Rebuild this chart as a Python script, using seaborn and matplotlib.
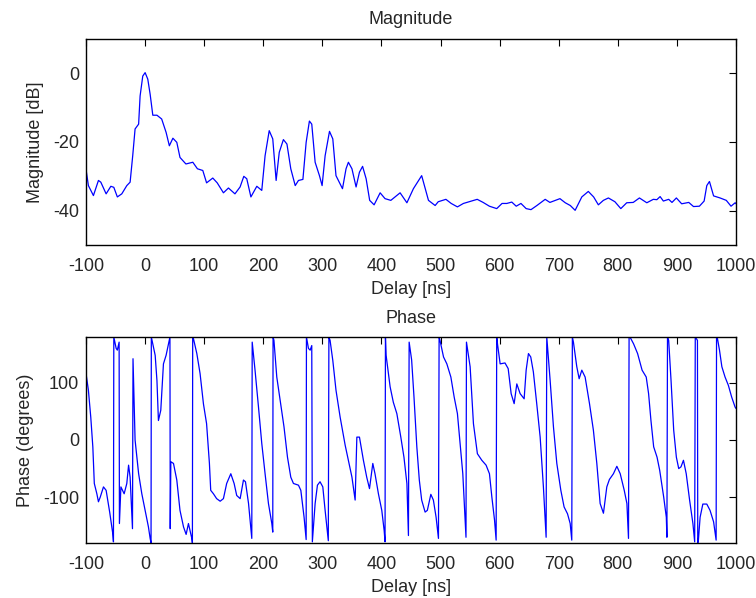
import numpy as np
import pandas as pd
import matplotlib
matplotlib.use('Agg')
import matplotlib.pyplot as plt
import seaborn as sns

# magnitude trace (delay in ns, dB)
mag_ns = [-100, -96, -87.5, -79, -75, -66, -58, -53, -47, -39.5, -31, -25.4, -21, -17, -11,
          -8.5, -4, 0, 4.5, 8.5, 13, 20, 28, 35.5, 41, 47, 53.6, 59, 69, 80.7, 88.5, 97.6,
          104, 114.5, 122, 132.5, 141, 152, 160.7, 167, 172, 179, 189, 197.4, 203, 210,
          216, 221.7, 227, 234, 240, 246.5, 254, 259.5, 267, 272.5, 278, 282, 287.7, 295,
          299.5, 304.6, 312, 317.6, 323, 334, 340, 344, 350, 357, 362.7, 368, 374, 380,
          387.5, 397.7, 406, 415.8, 431.5, 443, 454, 468, 479.5, 490.8, 496, 509, 518,
          528.5, 538.6, 550, 562, 572, 582.6, 595, 604, 612, 620.5, 628, 636, 644.8, 653,
          663, 677, 685, 702, 711, 719.5, 727.7, 739, 750, 759, 767, 775.5, 784, 795, 805,
          815, 826, 836.5, 849, 860, 866, 871.5, 877, 886, 891.6, 899, 908, 920, 928, 938,
          946, 950.5, 955, 962, 973, 983.5, 991.5, 998.5, 1000]
mag_db = [-28, -32.7, -35.6, -31.2, -31.7, -35.1, -32.9, -33.2, -36, -35.1, -32.7, -31.7, -24,
          -16.2, -14.8, -6.6, -0.8, 0.2, -1.7, -6.1, -12.2, -12.2, -13.3, -17.2, -21.1, -18.9,
          -20.1, -24.5, -26.4, -25.9, -27.8, -28.3, -31.9, -30.5, -31.9, -34.8, -33.4, -35.1,
          -33.1, -30, -30.7, -36, -32.9, -34.1, -24, -16.7, -19.1, -31.2, -23, -19.3, -20.6,
          -27.8, -32.7, -31.2, -30.9, -20.1, -13.9, -14.8, -25.9, -29.8, -32.7, -24, -16.9,
          -19.1, -29.8, -33.6, -27.8, -25.9, -27.8, -33.1, -28.8, -27.1, -30.7, -37, -38.3,
          -34.8, -36.5, -37, -34.8, -37.7, -33.6, -29.8, -37, -38.5, -37.4, -36.7, -37.9,
          -38.9, -37.9, -37.3, -36.7, -37.6, -38.7, -39.4, -37.9, -37.9, -37.5, -38.7, -37.9,
          -39.4, -39.7, -38.5, -36.7, -37.6, -36.5, -37.7, -38.5, -39.9, -36, -34.4, -36,
          -38.3, -37, -36.3, -37.4, -39.4, -37.7, -37.6, -36.3, -37.7, -36.7, -36.8, -35.9,
          -37.2, -36.7, -37.6, -36.3, -38, -37.6, -38.8, -38.7, -37.2, -32.7, -31.5, -35.7,
          -36.3, -37, -38.7, -37.7, -38]

# wrapped phase trace (delay in ns, degrees)
ph_ns = [-100, -96, -92, -88.5, -86, -81.7, -79, -76, -70.5, -66, -60, -54.7, -53.6, -53, -49,
         -47, -44, -43.5, -41, -35.5, -31, -28, -25.4, -21.4, -20.5, -17, -11, -5.6, 0, 5.6,
         8.5, 10, 10.5, 13, 17, 20, 22.5, 26.5, 31, 35.5, 42, 42.5, 43.5, 48, 53.6, 59, 65,
         69.4, 73.3, 76, 79, 80, 80.5, 81.8, 87.5, 93, 98.7, 104, 108.8, 111, 115.6, 121,
         127, 132.5, 138, 145, 150.6, 155, 160.8, 166.4, 169.8, 175, 180.5, 181.2, 186,
         191.8, 197.4, 203, 208.7, 214.4, 216, 216.5, 218, 222.8, 228.5, 235, 240.9, 246.5,
         251, 259.5, 263.5, 269, 272.5, 273, 276.4, 279.3, 282, 283, 287.7, 291.6, 296,
         300.7, 304.6, 310, 311, 313, 317.6, 323, 330, 338.5, 344, 350, 355.4, 358.3, 362.7,
         369.4, 375, 379.7, 385.3, 389, 394.8, 400.5, 404.5, 406, 406.7, 407.8, 414.6, 420,
         426, 432.7, 438, 443, 445.6, 446.8, 451, 455, 459.8, 464, 468, 473.8, 477.6, 483.5,
         487.8, 492.4, 496.4, 497.5, 499, 505, 510.6, 517.4, 523, 528.5, 533, 537.6, 543,
         543.8, 550, 555.6, 562.3, 569.8, 577, 582.7, 586.8, 591.3, 594, 595, 596.3, 600.8,
         609, 614.4, 619.4, 624.5, 629, 634.6, 641.4, 644.8, 648.7, 652.6, 657, 662.7, 668.5,
         674, 678.6, 679.7, 680.8, 685.4, 691, 696.7, 703.5, 709, 714.8, 719.3, 722, 723,
         724.8, 730.5, 734.5, 739, 744.6, 752, 758.6, 764.4, 770, 775.6, 781.3, 785.7, 792.5,
         798.3, 804, 810.8, 815.3, 818, 819, 821, 826.6, 833.4, 841, 848, 852, 856, 860.6,
         866.3, 870.8, 877.6, 882, 883, 884, 886, 890, 894.5, 899, 903, 906.8, 911, 915.7,
         921.4, 927, 930, 931, 934.7, 935.2, 936.3, 939.2, 943.8, 950.5, 956, 962, 966.3,
         967, 968.6, 972, 976, 981.4, 987, 992.6, 998.3, 1000]
ph_deg = [116, 87, 40, -12, -76, -94, -108, -100, -82, -88, -126, -164, -178, 180, 160,
          157, 171, -146, -82, -94, -76, -44, -65, -155, 142, 0, -59, -94, -123, -152,
          -172, -180, 180, 168, 148, 104, 34, 52, 133, 148, 180, -155, -38, -41, -70, -123,
          -152, -165, -146, -158, -172, -180, 180, 177, 151, 116, 63, 28.5, -41, -88, -94,
          -102.5, -107, -102.5, -76, -59, -76, -97, -102.5, -70, -73, -111, -172, 171, 122,
          58, -6, -59, -111, -146, -161, 180, 174, 110, 69, 23, -30, -65, -76, -79, -88,
          -135, -174, 180, 160, 157, 165, -178, -111, -79, -73, -82, -123, -176, 180, 174,
          139, 87, 40, -9, -35.5, -65, -105, 5, 5, -35.5, -65, -85, -41, -59, -94, -123,
          -158, -178, 180, 148, 93, 66, 46, 5, -30, -76, -167, 171, 140, 75, -12, -70, -105,
          -126, -123, -95, -105, -135, -172, 180, 174, 145, 133, 110, 75, 46, -6, -59, -170,
          171, 128, 28.5, -24, -35.5, -44, -59, -100, -140, -175, 180, 168, 133, 134.6,
          124.7, 81, 63.5, 98, 81, 72, 122, 151, 145, 119, 63.5, 5, -82, -170, 180, 165, 104,
          23, -41, -88, -117, -129, -146, -175, 180, 171, 128, 107, 122, 110, 63.5, 17, -41,
          -111, -128, -82, -69, -59, -46, -59, -88, -111, -172, 180, 179, 168, 151, 122, 110,
          81, 34, -12, -30, -53, -100, -135, -170, 180, 174, 104, 17, -30, -50, -47, -35.5,
          -59, -105, -146, -178, 180, 174, -180, -175, -135, -112, -112, -123, -143, -175,
          180, 177, 157, 128, 110, 95.5, 75, 57.7, 55]

x_ticks = [-100, 0, 100, 200, 300, 400, 500, 600, 700, 800, 900, 1000]

sns.set_style('white')
plt.rcParams['font.family'] = ['Liberation Sans', 'DejaVu Sans']
plt.rcParams['axes.unicode_minus'] = False
plt.rcParams['font.size'] = 13

mag_df = pd.DataFrame({'Delay [ns]': mag_ns, 'Magnitude [dB]': mag_db})
ph_df = pd.DataFrame({'Delay [ns]': ph_ns, 'Phase (degrees)': ph_deg})

fig = plt.figure(figsize=(7.56, 5.98), dpi=100)
ax1 = fig.add_axes([0.1138, 0.5903, 0.8598, 0.3445])
ax2 = fig.add_axes([0.1138, 0.0920, 0.8598, 0.3445])

sns.lineplot(data=mag_df, x='Delay [ns]', y='Magnitude [dB]', ax=ax1,
             color='#0000ff', linewidth=0.9, estimator=None, sort=False)
sns.lineplot(data=ph_df, x='Delay [ns]', y='Phase (degrees)', ax=ax2,
             color='#0000ff', linewidth=0.9, estimator=None, sort=False)

ax1.set_xlim(-100, 1000)
ax1.set_ylim(-50, 10)
ax1.set_yticks([-40, -20, 0])
ax1.set_title('Magnitude', fontsize=13, pad=11)

ax2.set_xlim(-100, 1000)
ax2.set_ylim(-180, 180)
ax2.set_yticks([-100, 0, 100])
ax2.set_title('Phase', fontsize=13, pad=10)

for ax in (ax1, ax2):
    ax.set_xticks(x_ticks)
    ax.tick_params(direction='in', top=True, right=True, length=5, width=0.8,
                   color='black', labelsize=13)
    ax.tick_params(axis='x', pad=9.5)
    ax.tick_params(axis='y', pad=5)
    ax.xaxis.labelpad = 4.5
    ax.yaxis.labelpad = 6.5
    for s in ax.spines.values():
        s.set_color('black')
        s.set_linewidth(1.0)

fig.savefig('out.png', dpi=100)
